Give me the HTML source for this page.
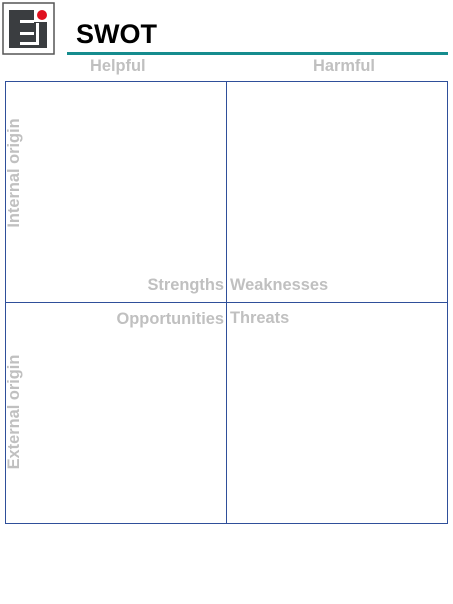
<!DOCTYPE html>
<html><head><meta charset="utf-8"><style>
body{margin:0;width:453px;height:604px;background:#fff;position:relative;overflow:hidden;font-family:"Liberation Sans",sans-serif}
.t{position:absolute;color:#c0c0c0;font-weight:bold;font-size:16.4px;line-height:16px;white-space:nowrap}
.v{position:absolute;color:#c0c0c0;font-weight:bold;font-size:16.4px;line-height:16px;white-space:nowrap;transform:translate(-50%,-50%) rotate(-90deg)}
</style></head><body>
<svg style="position:absolute;left:0;top:0" width="60" height="60">
<rect x="3" y="3" width="51" height="51" fill="#fff" stroke="#555" stroke-width="1.5"/>
<rect x="9" y="10" width="38" height="38" fill="#3a3d40"/>
<rect x="34" y="9" width="14" height="13" fill="#fff"/>
<rect x="20" y="20" width="14" height="3" fill="#fff"/>
<rect x="20" y="32" width="14" height="3" fill="#fff"/>
<rect x="36" y="23" width="3" height="22" fill="#fff"/>
<rect x="20" y="42" width="19" height="3" fill="#fff"/>
<circle cx="42" cy="15" r="5" fill="#e0101e"/>
</svg>
<div style="position:absolute;left:76px;top:19px;font-size:27px;font-weight:bold;color:#000;line-height:30px">SWOT</div>
<div style="position:absolute;left:67px;top:52px;width:381px;height:3px;background:#158c8e"></div>
<div class="t" style="left:90px;top:58px">Helpful</div>
<div class="t" style="left:313px;top:58px">Harmful</div>
<div style="position:absolute;left:5px;top:81px;width:441px;height:441px;border:1px solid #2f4f9a"></div>
<div style="position:absolute;left:226px;top:81px;width:1px;height:443px;background:#2f4f9a"></div>
<div style="position:absolute;left:5px;top:302px;width:443px;height:1px;background:#2f4f9a"></div>
<div class="t" style="right:229px;top:277px">Strengths</div>
<div class="t" style="left:230px;top:277px">Weaknesses</div>
<div class="t" style="right:229px;top:311px">Opportunities</div>
<div class="t" style="left:230px;top:310px">Threats</div>
<div class="v" style="left:14px;top:173px">Internal origin</div>
<div class="v" style="left:14px;top:412px">External origin</div>
</body></html>
